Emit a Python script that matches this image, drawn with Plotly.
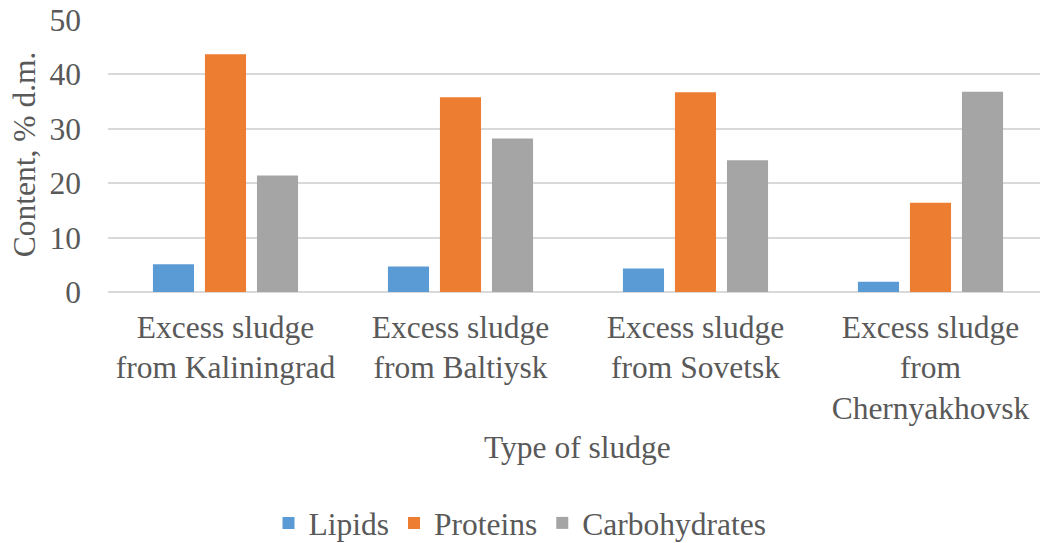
import plotly.graph_objects as go

# Sludge types (category axis) and composition, % of dry matter
categories = [
    "Excess sludge<br>from Kaliningrad",
    "Excess sludge<br>from Baltiysk",
    "Excess sludge<br>from Sovetsk",
    "Excess sludge<br>from<br>Chernyakhovsk",
]
lipids = [5.1, 4.7, 4.3, 1.9]
proteins = [43.7, 35.8, 36.7, 16.4]
carbohydrates = [21.4, 28.2, 24.2, 36.8]

y_ticks = [0, 10, 20, 30, 40, 50]

FONT = "Liberation Serif"
SIZE = 31.5
TEXT = "#595959"
GRID = "#D9D9D9"

fig = go.Figure()
for name, vals, color in [
    ("Lipids", lipids, "#5B9BD5"),
    ("Proteins", proteins, "#ED7D31"),
    ("Carbohydrates", carbohydrates, "#A5A5A5"),
]:
    fig.add_trace(go.Bar(x=categories, y=vals, name=name,
                         marker=dict(color=color, line=dict(width=0))))

fig.update_layout(
    width=1040, height=543,
    margin=dict(l=108, r=0, t=20, b=251),
    paper_bgcolor="white", plot_bgcolor="white",
    font=dict(family=FONT, size=SIZE, color=TEXT),
    barmode="group", bargap=0.336, bargroupgap=0.21,
    showlegend=True,
    legend=dict(orientation="h", xref="container", yref="container",
                x=0.5, xanchor="center", y=0.037, yanchor="middle",
                font=dict(family=FONT, size=SIZE, color=TEXT),
                itemwidth=30, traceorder="normal"),
    annotations=[
        dict(text="Type of sludge", xref="paper", yref="paper",
             x=0.504, y=-0.57, xanchor="center", yanchor="middle",
             showarrow=False, font=dict(family=FONT, size=SIZE, color=TEXT)),
        dict(text="Content, % d.m.", xref="paper", yref="paper",
             x=-0.09, y=0.507, xanchor="center", yanchor="middle",
             textangle=-90, showarrow=False,
             font=dict(family=FONT, size=SIZE, color=TEXT)),
    ],
)

fig.update_xaxes(
    type="category", range=[-0.5, 3.466],
    showgrid=False, zeroline=False, showline=False, ticks="",
    ticklabelstandoff=13,
    tickfont=dict(family=FONT, size=SIZE, color=TEXT),
)
fig.update_yaxes(
    range=[0, 50], tickvals=y_ticks,
    showgrid=True, gridcolor=GRID, gridwidth=1.5,
    zeroline=True, zerolinecolor=GRID, zerolinewidth=1.5,
    showline=False, ticks="", ticklabelstandoff=26,
    tickfont=dict(family=FONT, size=SIZE, color=TEXT),
)

fig.write_html("out.html")
